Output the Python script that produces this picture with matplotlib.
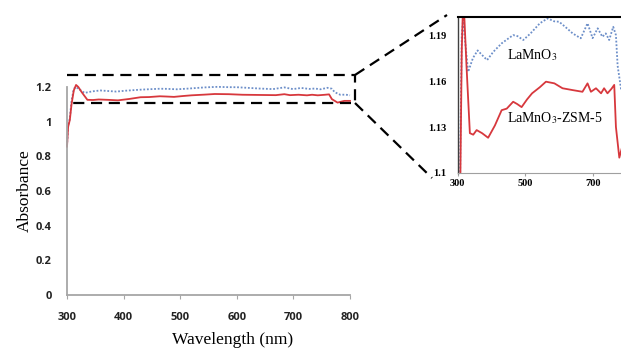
import matplotlib.pyplot as plt
from matplotlib.lines import Line2D

plt.rcParams['mathtext.fontset'] = 'stix'

# UV-vis absorbance spectra
wl_zsm = [300, 302, 305, 308, 312, 316, 320, 326, 336, 346, 356, 372, 390, 410, 430, 445,
          464, 476, 489, 505, 520, 543, 561, 586, 610, 640, 669, 684, 694, 709, 724,
          733, 743, 755, 763, 768, 778, 790, 800]
abs_zsm = [0.856, 0.97, 1.01, 1.10, 1.18, 1.212, 1.20, 1.17, 1.126, 1.125, 1.128, 1.126,
           1.123, 1.131, 1.141, 1.142, 1.1465, 1.145, 1.143, 1.148, 1.152, 1.156, 1.1596,
           1.1585, 1.1553, 1.1541, 1.153, 1.1585, 1.153, 1.1553, 1.152, 1.1553, 1.152,
           1.155, 1.1575, 1.13, 1.11, 1.12, 1.12]

wl_la = [300, 302, 305, 308, 312, 316, 320, 331, 345, 359, 372, 387, 405, 430, 448, 464,
         477, 494, 515, 543, 566, 585, 600, 620, 640, 664, 684, 699, 714, 728, 738, 748,
         760, 768, 773, 783, 792, 800]
abs_la = [0.86, 0.975, 1.02, 1.12, 1.19, 1.20, 1.19, 1.166, 1.175, 1.180, 1.177, 1.1737,
          1.179, 1.1846, 1.1875, 1.190, 1.1893, 1.1868, 1.191, 1.1977, 1.2009, 1.199,
          1.1987, 1.195, 1.1911, 1.1879, 1.1977, 1.188, 1.1944, 1.1889, 1.1911, 1.1868,
          1.1954, 1.190, 1.17, 1.155, 1.156, 1.152]

main_xticks = [300, 400, 500, 600, 700, 800]
main_yticks = [0, 0.2, 0.4, 0.6, 0.8, 1.0, 1.2]
main_ylabels = ['0', '0.2', '0.4', '0.6', '0.8', '1', '1.2']
zoom_xticks = [300, 500, 700]
zoom_yticks = [1.1, 1.13, 1.16, 1.19]
zoom_ylabels = ['1.1', '1.13', '1.16', '1.19']

red = '#d7383d'
blue = '#6d8fc9'
W, H = 621, 348

fig = plt.figure(figsize=(W / 100, H / 100), dpi=100)

ax = fig.add_axes([67 / W, 53 / H, 283 / W, 208 / H])
ax.plot(wl_la, abs_la, color=blue, lw=1.3, ls=(0, (1, 1)), clip_on=False)
ax.plot(wl_zsm, abs_zsm, color=red, lw=1.3, clip_on=False)
ax.set_xlim(300, 800)
ax.set_ylim(0, 1.2)
for s in ['top', 'right']:
    ax.spines[s].set_visible(False)
for s in ['left', 'bottom']:
    ax.spines[s].set_color('#a6a6a6')
    ax.spines[s].set_linewidth(1.3)
ax.set_xticks(main_xticks)
ax.set_yticks(main_yticks)
ax.set_yticklabels(main_ylabels)
ax.tick_params(axis='x', length=3, color='#a6a6a6', pad=9)
ax.tick_params(axis='y', length=0, pad=11)
for t in ax.get_xticklabels() + ax.get_yticklabels():
    t.set_fontfamily('Open Sans')
    t.set_fontweight('bold')
    t.set_fontsize(8)
    t.set_color('#222222')

fig.text(25 / W, 1 - 191 / H, 'Absorbance', rotation=90, ha='center', va='center',
         family='Liberation Serif', fontsize=12.5)
fig.text(233 / W, 1 - 340 / H, 'Wavelength (nm)', ha='center', va='center',
         family='Liberation Serif', fontsize=12.5)

# dashed zoom box and connectors
dash = dict(color='black', lw=1.6, ls=(0, (5, 3)))
ax.plot([300, 809, 809, 300], [1.269, 1.269, 1.106, 1.106], clip_on=False, **dash)
fig.add_artist(Line2D([355 / W, 447 / W], [1 - 75 / H, 1 - 15 / H],
                      transform=fig.transFigure, **dash))
fig.add_artist(Line2D([355 / W, 432 / W], [1 - 103 / H, 1 - 178 / H],
                      transform=fig.transFigure, **dash))

# zoomed inset
axin = fig.add_axes([457.7 / W, 175 / H, 163.3 / W, 156.3 / H])
axin.plot(wl_la, abs_la, color=blue, lw=1.3, ls=(0, (1, 1)))
axin.plot(wl_zsm, abs_zsm, color=red, lw=1.3)
axin.set_xlim(300, 783)
axin.set_ylim(1.1, 1.202)
axin.spines['right'].set_visible(False)
axin.spines['top'].set_color('black')
axin.spines['top'].set_linewidth(1.5)
axin.spines['left'].set_color('#404040')
axin.spines['left'].set_linewidth(1.0)
axin.spines['bottom'].set_color('#a0a0a0')
axin.spines['bottom'].set_linewidth(0.8)
axin.set_xticks(zoom_xticks)
axin.set_yticks(zoom_yticks)
axin.set_yticklabels(zoom_ylabels)
axin.tick_params(axis='x', length=2, color='#a0a0a0', pad=2)
axin.tick_params(axis='y', length=0, pad=8)
for t in axin.get_xticklabels() + axin.get_yticklabels():
    t.set_fontfamily('Liberation Serif')
    t.set_fontweight('bold')
    t.set_fontsize(7.5)
axin.text(446, 1.177, 'LaMnO$_3$', family='Liberation Serif', fontsize=10,
          va='center', ha='left')
axin.text(446, 1.1359, 'LaMnO$_3$-ZSM-5', family='Liberation Serif', fontsize=10,
          va='center', ha='left')

fig.savefig('out.png', dpi=100)
